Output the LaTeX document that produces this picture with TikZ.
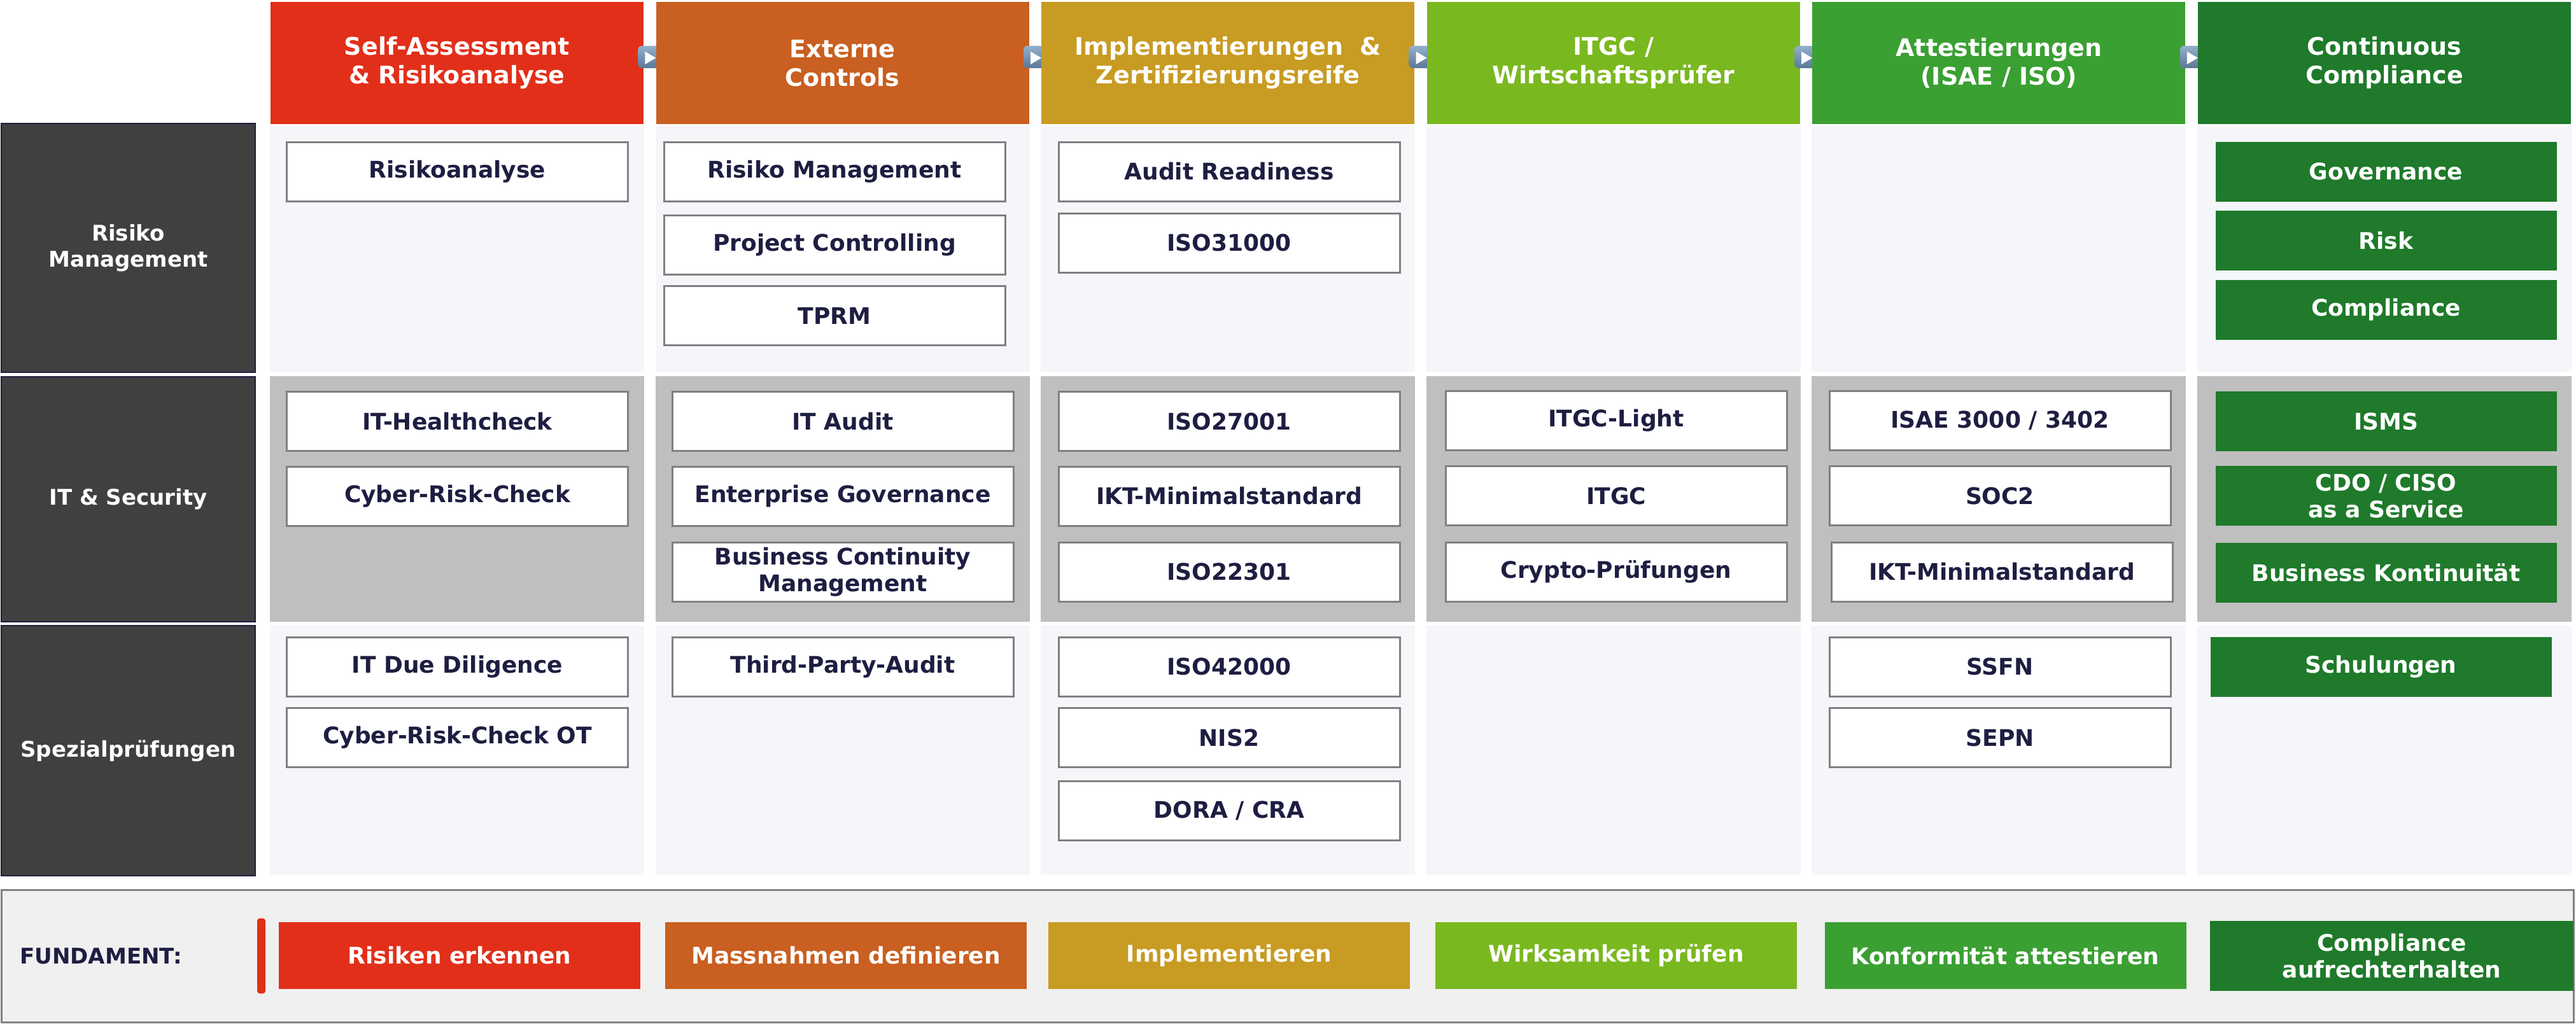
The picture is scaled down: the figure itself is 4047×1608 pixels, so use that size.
\documentclass[tikz,border=0pt]{standalone}
\usepackage{fontspec}
\setmainfont{DejaVu Sans}
\usetikzlibrary{calc}
\definecolor{phaseA}{HTML}{E22F19}
\definecolor{phaseB}{HTML}{C95F20}
\definecolor{phaseC}{HTML}{C89B22}
\definecolor{phaseD}{HTML}{7AB820}
\definecolor{phaseE}{HTML}{3AA032}
\definecolor{phaseF}{HTML}{1F7A2B}
\definecolor{cellbg}{HTML}{F5F6FA}
\definecolor{cellgray}{HTML}{BFBFBF}
\definecolor{boxgray}{HTML}{808080}
\definecolor{navy}{HTML}{1E1E42}
\definecolor{labeldark}{HTML}{404040}
\definecolor{panelbg}{HTML}{F0F0F0}
\definecolor{arrowtop}{HTML}{93B1CC}
\definecolor{arrowbot}{HTML}{5A7896}
\tikzset{
  header/.style={fill=#1, text=white, font=\bfseries\fontsize{19}{22.5}\selectfont, align=center,
    minimum width=293pt, minimum height=96pt, inner sep=0pt},
  item/.style={draw=boxgray, line width=1.5pt, fill=white, text=navy, font=\bfseries\fontsize{18}{21}\selectfont,
    align=center, minimum width=268pt, minimum height=46.5pt, inner sep=0pt},
  greenitem/.style={item, draw=none, fill=phaseF, text=white, minimum height=47pt},
  rowlabel/.style={draw=navy, line width=1pt, fill=labeldark, text=white, font=\bfseries\fontsize{17}{20.5}\selectfont,
    align=center, minimum width=199.5pt, inner sep=0pt},
  basis/.style={fill=#1, text=white, font=\bfseries\fontsize{18}{21}\selectfont, align=center,
    minimum width=284pt, minimum height=52.5pt, inner sep=0pt}
}
\begin{document}
\begin{tikzpicture}[x=0.5pt,y=-0.5pt]
			%%%%% START %%%%%
			\useasboundingbox (0,0) rectangle (4047,1608);
			
			% column backgrounds
			\foreach \i in {0,...,5} {
				\pgfmathsetmacro\cx{718+605.6*\i}
				\fill[cellbg] (\cx-294,197) rectangle (\cx+294,584);
				\fill[cellgray] (\cx-294,591) rectangle (\cx+294,977);
				\fill[cellbg] (\cx-294,983) rectangle (\cx+294,1375);
			}
			
			% phase headers with arrows
			\foreach \col/\txt [count=\n] in {phaseA/{Self-Assessment\\\& Risikoanalyse},
				phaseB/{Externe\\Controls},
				phaseC/{Implementierungen\ \ \&\\Zertifizierungsreife},
				phaseD/{ITGC /\\Wirtschaftsprüfer},
				phaseE/{Attestierungen\\(ISAE / ISO)},
				phaseF/{Continuous\\Compliance}} {
				\pgfmathsetmacro\cx{718+605.6*(\n-1)}
				\node[header=\col] (h\n) at (\cx,99) {\txt};
				\ifnum\n<6
					\shade[top color=arrowtop, bottom color=arrowbot, rounded corners=3pt]
						($(h\n.east)+(-9,-27)$) rectangle ($(h\n.east)+(30,8)$);
					\fill[white] ($(h\n.east)+(2,-18)$) -- ($(h\n.east)+(19,-8)$) -- ($(h\n.east)+(2,2)$) -- cycle;
				\fi
			}
			
			% row labels
			\node[rowlabel, minimum height=195.5pt] (r1) at (201.5,389.5) {Risiko\\Management};
			\node[rowlabel, minimum height=192.5pt] (r2) at (201.5,784.5) {IT \& Security};
			\node[rowlabel, minimum height=196.5pt] (r3) at (201.5,1179.5) {Spezialprüfungen};
			
			% Risiko Management
			\node[item] (rm1a) at (718.5,269.5) {Risikoanalyse};
			\node[item] (rm2a) at (1311,269.5) {Risiko Management};
			\node[item] (rm2b) at (1311,385) {Project Controlling};
			\node[item] (rm2c) at (1311,496) {TPRM};
			\node[item] (rm3a) at (1931,269.5) {Audit Readiness};
			\node[item] (rm3b) at (1931,381.5) {ISO31000};
			\node[greenitem] (rm6a) at (3748.5,269.5) {Governance};
			\node[greenitem] (rm6b) at (3748.5,378) {Risk};
			\node[greenitem] (rm6c) at (3748.5,487) {Compliance};
			
			% IT & Security
			\node[item] (it1a) at (718.5,662) {IT-Healthcheck};
			\node[item] (it1b) at (718.5,779.5) {Cyber-Risk-Check};
			\node[item] (it2a) at (1324,662) {IT Audit};
			\node[item] (it2b) at (1324,779.5) {Enterprise Governance};
			\node[item] (it2c) at (1324,898.5) {Business Continuity\\Management};
			\node[item] (it3a) at (1931,662) {ISO27001};
			\node[item] (it3b) at (1931,779.5) {IKT-Minimalstandard};
			\node[item] (it3c) at (1931,898.5) {ISO22301};
			\node[item] (it4a) at (2539,661) {ITGC-Light};
			\node[item] (it4b) at (2539,779) {ITGC};
			\node[item] (it4c) at (2539,898.5) {Crypto-Prüfungen};
			\node[item] (it5a) at (3142,661) {ISAE 3000 / 3402};
			\node[item] (it5b) at (3142,779) {SOC2};
			\node[item] (it5c) at (3145,898.5) {IKT-Minimalstandard};
			\node[greenitem] (it6a) at (3748.5,662) {ISMS};
			\node[greenitem] (it6b) at (3748.5,779) {CDO / CISO\\as a Service};
			\node[greenitem] (it6c) at (3748.5,900) {Business Kontinuität};
			
			% Spezialpruefungen
			\node[item] (sp1a) at (718.5,1047.5) {IT Due Diligence};
			\node[item] (sp1b) at (718.5,1159) {Cyber-Risk-Check OT};
			\node[item] (sp2a) at (1324,1047.5) {Third-Party-Audit};
			\node[item] (sp3a) at (1931,1047.5) {ISO42000};
			\node[item] (sp3b) at (1931,1159) {NIS2};
			\node[item] (sp3c) at (1931,1274) {DORA / CRA};
			\node[item] (sp5a) at (3142,1047.5) {SSFN};
			\node[item] (sp5b) at (3142,1159) {SEPN};
			\node[greenitem] (sp6a) at (3740.5,1047.5) {Schulungen};
			
			% Fundament
			\node[draw=boxgray, line width=1.5pt, fill=panelbg, minimum width=2020.5pt, minimum height=104pt, inner sep=0pt] (fundament) at (2022.5,1502) {};
			\node[anchor=west, inner sep=0pt, text=navy, font=\bfseries\fontsize{17}{20}\selectfont] (fundlabel) at (31,1502) {FUNDAMENT:};
			\node[fill=phaseA, rounded corners=2pt, minimum width=6.5pt, minimum height=59pt, inner sep=0pt] (redbar) at (410.5,1502) {};
			\node[basis=phaseA] (f1) at (722,1501.5) {Risiken erkennen};
			\node[basis=phaseB] (f2) at (1329,1501.5) {Massnahmen definieren};
			\node[basis=phaseC] (f3) at (1931,1501.5) {Implementieren};
			\node[basis=phaseD] (f4) at (2539,1501.5) {Wirksamkeit prüfen};
			\node[basis=phaseE] (f5) at (3150.5,1501.5) {Konformität attestieren};
			\node[basis=phaseF, minimum width=285.5pt, minimum height=55pt] (f6) at (3757.5,1502) {Compliance\\aufrechterhalten};
			
			%%%%% END %%%%%
\end{tikzpicture}
\end{document}
